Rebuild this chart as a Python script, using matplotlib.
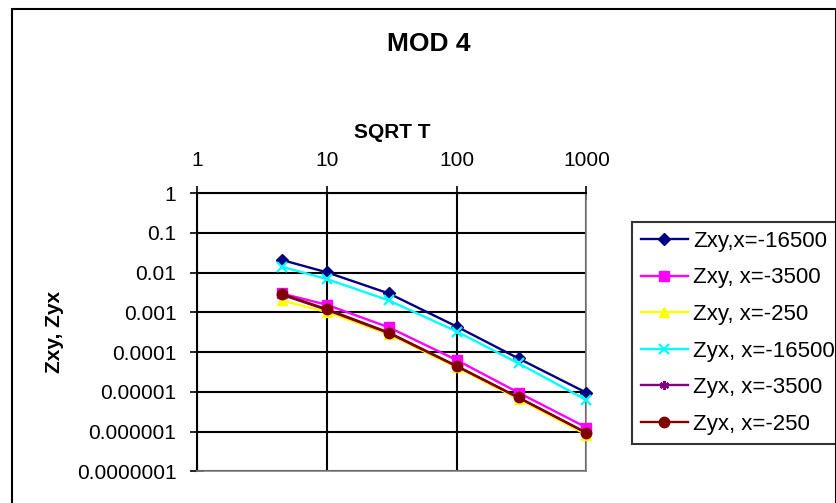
import matplotlib
matplotlib.use("Agg")
import matplotlib.pyplot as plt
from matplotlib.patches import Rectangle
from matplotlib.ticker import FixedLocator, NullLocator

plt.rcParams['font.family'] = ['Liberation Sans', 'DejaVu Sans']

# sqrt(T) sample positions
sqrt_t = [4.47, 10, 30, 100, 300, 1000]

# impedance components per station
zxy_16500 = [0.021, 0.0102, 0.0030, 0.00044, 6.9e-5, 9.5e-6]
zxy_3500 = [0.0030, 0.00155, 0.00042, 6.3e-5, 9.5e-6, 1.26e-6]
zxy_250 = [0.0020, 0.00102, 0.00028, 4.1e-5, 6.6e-6, 8.3e-7]
zyx_16500 = [0.0142, 0.0069, 0.0020, 0.00033, 5.2e-5, 6.2e-6]
zyx_3500 = [0.0028, 0.00115, 0.00030, 4.4e-5, 7.1e-6, 9.2e-7]
zyx_250 = [0.0029, 0.0012, 0.00031, 4.47e-5, 7.2e-6, 9.3e-7]

series_labels = ["Zxy,x=-16500", "Zxy, x=-3500", "Zxy, x=-250",
                 "Zyx, x=-16500", "Zyx, x=-3500", "Zyx, x=-250"]

x_ticks = [1, 10, 100, 1000]
x_tick_labels = ["1", "10", "100", "1000"]
y_ticks = [1, 0.1, 0.01, 0.001, 0.0001, 0.00001, 0.000001, 0.0000001]
y_tick_labels = ["1", "0.1", "0.01", "0.001", "0.0001", "0.00001",
                 "0.000001", "0.0000001"]

W, H = 837, 503
fig = plt.figure(figsize=(W / 100, H / 100), dpi=100)

# chart-area frame
fig.patches.append(Rectangle((12 / W, -0.05), (836 - 12) / W, 1.05 - 9 / H,
                             transform=fig.transFigure, fill=False,
                             edgecolor='black', linewidth=1.5, zorder=0))

ax = fig.add_axes([197.3 / W, 1 - 471.2 / H, (586.4 - 197.3) / W,
                   (471.2 - 193.3) / H])
ax.set_xscale('log')
ax.set_yscale('log')
ax.set_xlim(1, 1000)
ax.set_ylim(1e-7, 1)

styles = [
    dict(color='#000080', marker='D', ms=6),
    dict(color='#FF00FF', marker='s', ms=6.5),
    dict(color='#FFFF00', marker='^', ms=7),
    dict(color='#00FFFF', marker='x', ms=6.5, mew=1.6),
    dict(color='#800080', marker=(6, 2, 0), ms=6.5, mew=1.6),
    dict(color='#800000', marker='o', ms=7.5),
]
data = [zxy_16500, zxy_3500, zxy_250, zyx_16500, zyx_3500, zyx_250]
for ys, lab, st in zip(data, series_labels, styles):
    ax.plot(sqrt_t, ys, label=lab, lw=1.7, zorder=3, clip_on=False, **st)

# gridlines and ticks
ax.xaxis.set_major_locator(FixedLocator(x_ticks))
ax.xaxis.set_minor_locator(NullLocator())
ax.yaxis.set_major_locator(FixedLocator(y_ticks))
ax.yaxis.set_minor_locator(NullLocator())
ax.set_xticklabels(x_tick_labels)
ax.set_yticklabels(y_tick_labels)
ax.grid(True, which='major', color='black', lw=1.5, zorder=1)
ax.set_axisbelow(True)

ax.xaxis.tick_top()
ax.xaxis.set_label_position('top')
ax.tick_params(axis='x', which='major', direction='inout', length=10,
               width=1.2, labelsize=15, pad=11.5, top=True, bottom=False)
ax.tick_params(axis='y', which='major', direction='inout', length=10,
               width=1.2, labelsize=15, pad=10)

for side in ('bottom', 'right'):
    ax.spines[side].set_color('#808080')
    ax.spines[side].set_linewidth(1.2)
ax.spines['left'].set_linewidth(1.5)
ax.spines['top'].set_linewidth(1.5)

ax.set_xlabel("SQRT T", fontsize=15, fontweight='bold', labelpad=9.5)
ax.set_ylabel("Zxy, Zyx", fontsize=15, fontweight='bold', labelpad=9.5)

fig.text(429 / W, 1 - 44 / H, "MOD 4", fontsize=19, fontweight='bold',
         ha='center', va='center')

leg = ax.legend(loc='upper left', bbox_to_anchor=(632 / W, 1 - 222 / H),
                bbox_transform=fig.transFigure, borderaxespad=0,
                fontsize=16, frameon=True, fancybox=False, handlelength=2.1,
                handletextpad=0.25, labelspacing=0.7, borderpad=0.4)
leg.get_frame().set_edgecolor('black')
leg.get_frame().set_linewidth(1.5)

fig.savefig("out.png", dpi=100)
